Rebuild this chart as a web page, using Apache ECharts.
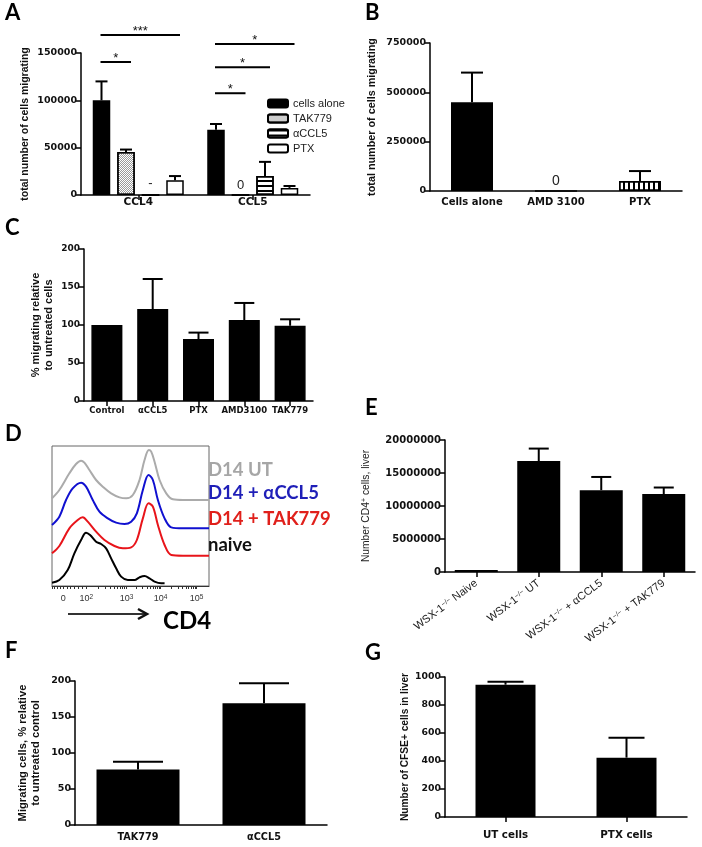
<!DOCTYPE html>
<html><head><meta charset="utf-8">
<script src="https://cdn.jsdelivr.net/npm/echarts@6/dist/echarts.min.js"></script>
<style>html,body{margin:0;padding:0;background:#fff}#c{width:702px;height:847px}</style>
</head><body><div id="c"></div>
<script>
// ---------- Panel A ----------
const aCategories = ['CCL4', 'CCL5'];
const aSeriesNames = ['cells alone', 'TAK779', 'αCCL5', 'PTX'];
const aCellsAlone = [100000, 69000];
const aCellsAloneErr = [120000, 75000];
const aTAK779 = [45500, 0];
const aTAK779Err = [48000, null];
const aTAK779Label = [null, '0'];
const aAntiCCL5 = [0, 20000];
const aAntiCCL5Err = [null, 35000];
const aAntiCCL5Label = ['-', null];
const aPTX = [15500, 7500];
const aPTXErr = [20000, 9500];
// [category, fromBar, toBar, level, stars]
const aSig = [[0, 0, 3, 169000, '***'], [0, 0, 1, 140500, '*'], [1, 0, 3, 159500, '*'], [1, 0, 2, 135000, '*'], [1, 0, 1, 107500, '*']];
// ---------- Panel B ----------
const bCategories = ['Cells alone', 'AMD 3100', 'PTX'];
const bValues = [450000, 0, 51000];
const bErr = [600000, null, 101000];
const bLabels = [null, '0', null];
// ---------- Panel C ----------
const cCategories = ['Control', 'αCCL5', 'PTX', 'AMD3100', 'TAK779'];
const cValues = [100, 121, 81.5, 106.5, 99];
const cErr = [null, 160.5, 90, 129, 107.5];
// ---------- Panel D (flow histograms, channel vs offset count) ----------
const dUT = [[0,263],[22,288],[52,338],[72,366],[87,376],[97,370],[112,348],[132,318],[152,298],[177,278],[202,266],[222,263],[242,273],[262,318],[277,378],[290,408],[297,403],[307,373],[322,318],[342,278],[362,260],[392,258],[470,258]];
const dACCL5 = [[0,183],[22,208],[42,258],[62,293],[87,310],[102,298],[122,258],[142,223],[167,203],[192,190],[217,186],[237,193],[254,218],[272,288],[289,333],[302,318],[317,258],[337,203],[357,176],[392,173],[470,173]];
const dTAK779 = [[0,98],[22,120],[52,173],[77,198],[92,206],[107,193],[132,163],[157,138],[187,120],[212,113],[237,116],[254,138],[272,203],[289,248],[302,238],[317,183],[337,123],[357,93],[392,91],[470,91]];
const dNaive = [[0,10],[22,18],[47,48],[67,98],[87,138],[102,160],[114,153],[132,133],[147,126],[162,113],[177,83],[192,53],[207,28],[227,18],[247,18],[262,26],[277,30],[292,23],[307,13],[327,8],[337,8]];
const dTickPos = [34, 103, 223, 325, 433];
const dTickText = ['0', '10{s|2}', '10{s|3}', '10{s|4}', '10{s|5}'];
const dLegend = ['D14 UT', 'D14 + αCCL5', 'D14 + TAK779', 'naive'];
// ---------- Panel E ----------
const eCategories = ['WSX-1−/− Naive', 'WSX-1−/− UT', 'WSX-1−/− + αCCL5', 'WSX-1−/− + TAK779'];
const eValues = [300000, 16800000, 12400000, 11800000];
const eErr = [null, 18700000, 14400000, 12800000];
// ---------- Panel F ----------
const fCategories = ['TAK779', 'αCCL5'];
const fValues = [77, 169];
const fErr = [88, 197];
// ---------- Panel G ----------
const gCategories = ['UT cells', 'PTX cells'];
const gValues = [945, 424];
const gErr = [966, 566];

const TICKF = 'DejaVu Sans';
const NAMEF = 'Liberation Sans';
const LETTERF = 'Lato';

const chart = echarts.init(document.getElementById('c'), null, {renderer: 'canvas'});

const grids = [
  {left: 81, top: 53, width: 229, height: 142},
  {left: 430, top: 43, width: 252, height: 148},
  {left: 84, top: 249, width: 229, height: 152},
  {left: 52, top: 446, width: 157, height: 140, show: true, borderColor: '#666', borderWidth: 1},
  {left: 445, top: 440, width: 250, height: 132},
  {left: 75, top: 681, width: 252, height: 144},
  {left: 445, top: 677, width: 242, height: 140}
].map(g => Object.assign({containLabel: false, outerBoundsMode: 'none'}, g));

const axLine = {show: true, lineStyle: {color: '#000', width: 1.5}};

function catAxis(gi, data, fontSize, margin, ticks, extra) {
  return Object.assign({
    type: 'category', gridIndex: gi, data: data,
    axisLine: axLine,
    axisTick: {show: ticks, alignWithLabel: true, length: 5, lineStyle: {color: '#000', width: 1.5}},
    axisLabel: {interval: 0, margin: margin, fontFamily: TICKF, fontWeight: 'bold', fontSize: fontSize, color: '#111'},
    splitLine: {show: false}
  }, extra || {});
}
function valAxis(gi, max, interval, fontSize, name, nameGap, nameSize, extra) {
  return Object.assign({
    type: 'value', gridIndex: gi, min: 0, max: max, interval: interval,
    axisLine: axLine,
    axisTick: {show: true, length: 5, lineStyle: {color: '#000', width: 1.5}},
    axisLabel: {margin: 4, fontFamily: TICKF, fontWeight: 'bold', fontSize: fontSize, color: '#111',
      formatter: v => String(v)},
    splitLine: {show: false},
    name: name, nameLocation: 'middle', nameRotate: 90, nameGap: nameGap,
    nameTextStyle: {fontFamily: NAMEF, fontWeight: 'bold', fontSize: nameSize, color: '#111', lineHeight: nameSize + 2}
  }, extra || {});
}

function zeroLabel(text, distance, size) {
  return {show: true, position: 'top', distance: distance, formatter: text,
    fontFamily: NAMEF, fontSize: size, color: '#222'};
}
function barData(vals, labels, distance) {
  return vals.map((v, i) => (labels && labels[i] != null) ?
    {value: v, label: zeroLabel(labels[i], distance, 13)} : v);
}

function errSeries(gi, vals, errs, offset, capHalf) {
  return {
    type: 'custom', xAxisIndex: gi, yAxisIndex: gi, z: 5, silent: true, clip: false,
    data: vals.map((v, i) => [i, v, errs[i]]).filter(d => d[2] != null),
    encode: {x: 0, y: [1, 2]},
    renderItem: (params, api) => {
      const c = api.value(0);
      const lo = api.coord([c, api.value(1)]);
      const hi = api.coord([c, api.value(2)]);
      const x = lo[0] + offset;
      const st = {stroke: '#000', lineWidth: 2};
      return {type: 'group', children: [
        {type: 'line', shape: {x1: x, y1: lo[1], x2: x, y2: hi[1]}, style: st},
        {type: 'line', shape: {x1: x - capHalf, y1: hi[1], x2: x + capHalf, y2: hi[1]}, style: st}
      ]};
    }
  };
}

const blackBar = {color: '#000', borderColor: '#000', borderWidth: 1.5};
const aBW = 17.5, aGap = 0.4, aStep = aBW * (1 + aGap);
const aStyles = [
  blackBar,
  {color: '#fff', borderColor: '#000', borderWidth: 1.5, decal: {symbol: 'rect', symbolSize: 1, dashArrayX: [[1, 1], [0, 1, 1, 0]], dashArrayY: [1, 0], color: '#9a9a9a'}},
  {color: '#fff', borderColor: '#000', borderWidth: 1.5, decal: {symbol: 'rect', symbolSize: 1, dashArrayX: [1, 0], dashArrayY: [1.5, 2.5], color: '#000'}},
  {color: '#fff', borderColor: '#000', borderWidth: 1.5}
];
const aVals = [aCellsAlone, aTAK779, aAntiCCL5, aPTX];
const aErrs = [aCellsAloneErr, aTAK779Err, aAntiCCL5Err, aPTXErr];
const aLabs = [null, aTAK779Label, aAntiCCL5Label, null];
const aLabDist = [0, 2, 4, 0];

const series = [];
aVals.forEach((vals, k) => {
  series.push({type: 'bar', name: aSeriesNames[k], xAxisIndex: 0, yAxisIndex: 0,
    barWidth: aBW, barGap: (aGap * 100) + '%', itemStyle: aStyles[k],
    data: barData(vals, aLabs[k], aLabDist[k]), silent: true});
});
aVals.forEach((vals, k) => series.push(errSeries(0, vals, aErrs[k], (k - 1.5) * aStep, 6)));
series.push({
  type: 'custom', xAxisIndex: 0, yAxisIndex: 0, z: 6, silent: true, clip: false,
  data: aSig.map(s => [s[0], s[1], s[2], s[3]]),
  encode: {x: 0, y: 3},
  renderItem: (params, api) => {
    const c = api.coord([api.value(0), api.value(3)]);
    const x1 = c[0] + (api.value(1) - 1.5) * aStep - 1;
    const x2 = c[0] + (api.value(2) - 1.5) * aStep + 5;
    return {type: 'group', children: [
      {type: 'line', shape: {x1: x1, y1: c[1], x2: x2, y2: c[1]}, style: {stroke: '#000', lineWidth: 2}},
      {type: 'text', style: {text: aSig[params.dataIndex][4], x: (x1 + x2) / 2, y: c[1] + 3,
        textAlign: 'center', textVerticalAlign: 'bottom', fontFamily: NAMEF, fontSize: 13, fill: '#111'}}
    ]};
  }
});

// B
series.push({type: 'bar', xAxisIndex: 1, yAxisIndex: 1, barWidth: 42, silent: true,
  data: bValues.map((v, i) => {
    const st = i === 2 ? {color: '#fff', borderColor: '#000', borderWidth: 1.5,
      decal: {symbol: 'rect', symbolSize: 1, dashArrayX: [1, 0], dashArrayY: [1.5, 2.5], rotation: Math.PI / 2, color: '#000'}} : blackBar;
    const item = {value: v, itemStyle: st};
    if (bLabels[i] != null) item.label = zeroLabel(bLabels[i], 2, 14);
    return item;
  })});
series.push(errSeries(1, bValues, bErr, 0, 11));
// C
series.push({type: 'bar', xAxisIndex: 2, yAxisIndex: 2, barWidth: 31, itemStyle: blackBar, data: cValues, silent: true});
series.push(errSeries(2, cValues, cErr, 0, 10));
// D
const dColors = ['#ababab', '#1010d0', '#e8141a', '#000'];
[dUT, dACCL5, dTAK779, dNaive].forEach((d, k) => {
  series.push({type: 'line', xAxisIndex: 3, yAxisIndex: 3, data: d, smooth: 0.35, showSymbol: false,
    lineStyle: {color: dColors[k], width: 2}, silent: true, z: 4 - k});
});
// E
series.push({type: 'bar', xAxisIndex: 4, yAxisIndex: 4, barWidth: 43, itemStyle: blackBar, data: eValues, silent: true});
series.push(errSeries(4, eValues, eErr, 0, 10));
// F
series.push({type: 'bar', xAxisIndex: 5, yAxisIndex: 5, barWidth: 83, itemStyle: blackBar, data: fValues, silent: true});
series.push(errSeries(5, fValues, fErr, 0, 25));
// G
series.push({type: 'bar', xAxisIndex: 6, yAxisIndex: 6, barWidth: 60, itemStyle: blackBar, data: gValues, silent: true});
series.push(errSeries(6, gValues, gErr, 0, 18));

// D axis ticks (log decades)
const dTicks = [0, 8, 16, 24, 34, 45, 56, 67, 78, 90, 103];
for (let k = 0; k < dTickPos.length - 2; k++) {
  const a = dTickPos[k + 1], b = dTickPos[k + 2];
  for (let m = 2; m <= 9; m++) dTicks.push(a + (b - a) * Math.log10(m));
  dTicks.push(b);
}

const xAxes = [
  catAxis(0, aCategories, 10.5, 2, true),
  catAxis(1, bCategories, 10, 6, false),
  catAxis(2, cCategories, 8.5, 5, true),
  {type: 'value', gridIndex: 3, min: 0, max: 470,
    axisLine: {show: true, lineStyle: {color: '#333', width: 1}},
    axisTick: {show: true, customValues: dTicks, length: 3, lineStyle: {color: '#333', width: 1}},
    axisLabel: {show: true, customValues: dTickPos, margin: 8, fontFamily: NAMEF, fontSize: 9, color: '#333',
      formatter: v => { const i = dTickPos.indexOf(v); return i >= 0 ? dTickText[i] : ''; },
      rich: {s: {fontSize: 6.5, fontFamily: NAMEF, color: '#333', verticalAlign: 'top', lineHeight: 7}}},
    splitLine: {show: false}},
  catAxis(4, eCategories, 11, 10, true, {axisLabel: {interval: 0, margin: 10, rotate: 37, fontFamily: NAMEF, fontSize: 11, color: '#222',
    formatter: v => v.replace('−/−', '{s|−/−}'),
    rich: {s: {fontSize: 7, fontFamily: NAMEF, color: '#222', verticalAlign: 'top', lineHeight: 7}}}}),
  catAxis(5, fCategories, 9.7, 7, false),
  catAxis(6, gCategories, 10.3, 13, true)
];
const yAxes = [
  valAxis(0, 150000, 50000, 9.5, 'total number of cells migrating', 50, 10.5),
  valAxis(1, 750000, 250000, 9.5, 'total number of cells migrating', 52, 10.8),
  valAxis(2, 200, 50, 9, '% migrating relative\nto untreated cells', 29, 11),
  {type: 'value', gridIndex: 3, min: 0, max: 420, show: false},
  valAxis(4, 20000000, 5000000, 10, 'Number CD4{s|+} cells, liver', 74, 10.3,
    {nameTextStyle: {fontFamily: NAMEF, fontWeight: 'normal', fontSize: 10.3, color: '#222',
      rich: {s: {fontFamily: NAMEF, fontSize: 7, color: '#222', verticalAlign: 'top'}}}}),
  valAxis(5, 200, 50, 9.5, 'Migrating cells, % relative\nto untreated control', 32, 11.2),
  valAxis(6, 1000, 200, 9.3, 'Number of CFSE+ cells in liver', 33, 10.2)
];

function letter(t, x, cy) {
  return {type: 'text', left: x, top: cy - 13, style: {text: t, fontFamily: LETTERF, fontWeight: 'bold', fontSize: 22, fill: '#000'}};
}
const dLabelY = [472, 495, 521, 547];
const dLabelColors = ['#a6a6a6', '#1f1fb8', '#e0201b', '#111'];
const graphics = [
  letter('A', 5, 15), letter('B', 365, 15), letter('C', 5, 230), letter('D', 5, 436),
  letter('E', 365, 410), letter('F', 5, 653), letter('G', 365, 655),
  ...dLegend.map((t, i) => ({type: 'text', left: 208, top: dLabelY[i] - 11,
    style: {text: t, fontFamily: LETTERF, fontWeight: 'bold', fontSize: 18.5, fill: dLabelColors[i]}})),
  {type: 'polyline', shape: {points: [[68, 614], [146, 614]]}, style: {stroke: '#333', lineWidth: 2}},
  {type: 'polyline', shape: {points: [[138, 609], [147, 614], [138, 619]]}, style: {stroke: '#111', lineWidth: 2.5, fill: null}},
  {type: 'text', left: 163, top: 609, style: {text: 'CD4', fontFamily: LETTERF, fontWeight: 'bold', fontSize: 24, fill: '#000'}}
];

chart.setOption({
  animation: false,
  backgroundColor: '#fff',
  textStyle: {fontFamily: NAMEF},
  grid: grids,
  xAxis: xAxes,
  yAxis: yAxes,
  legend: {data: aSeriesNames, orient: 'vertical', left: 262, top: 93, itemWidth: 20, itemHeight: 8, itemGap: 4,
    icon: 'roundRect', selectedMode: false,
    textStyle: {fontFamily: NAMEF, fontSize: 11, color: '#222'}},
  series: series,
  graphic: graphics
});
</script></body></html>
